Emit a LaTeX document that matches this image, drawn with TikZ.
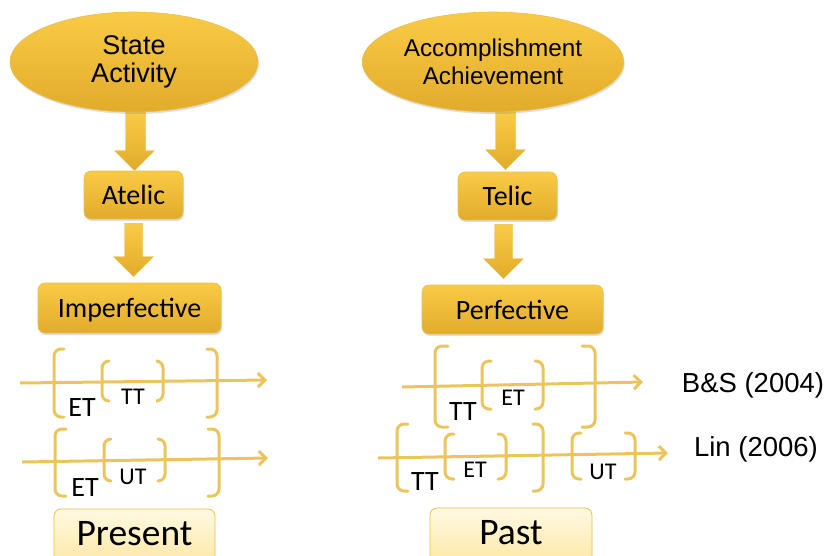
\documentclass[tikz,border=0pt]{standalone}
\usepackage{fontspec}
\setmainfont{Carlito}
\newfontfamily\arialf{Liberation Sans}
\usetikzlibrary{shapes.geometric,arrows.meta,calc,shadows}
\definecolor{goldtop}{HTML}{F9CB45}
\definecolor{goldbot}{HTML}{E2AB2B}
\definecolor{goldedge}{HTML}{E8BE50}
\definecolor{tline}{HTML}{EBC45C}
\definecolor{paletop}{HTML}{FFF9E0}
\definecolor{palebot}{HTML}{FDE397}
\tikzset{
  ell/.style={ellipse, top color=goldtop, bottom color=goldbot, draw=goldedge, line width=0.6pt,
    align=center, font=\arialf\fontsize{27}{28}\selectfont,
    drop shadow={shadow xshift=1pt, shadow yshift=-2pt, opacity=0.25}},
  goldbox/.style={rectangle, rounded corners=7pt, top color=goldtop, bottom color=goldbot,
    draw=goldedge, line width=0.6pt, font=\fontsize{28}{30}\selectfont, inner sep=0pt,
    text depth=0pt,
    drop shadow={shadow xshift=1pt, shadow yshift=-2pt, opacity=0.25}},
  palebox/.style={rounded corners=7pt, top color=paletop, bottom color=palebot,
    draw=goldedge, line width=0.8pt},
  palelab/.style={font=\fontsize{37.5}{40}\selectfont, inner sep=0pt},
  blockarrow/.style={top color=goldtop, bottom color=goldbot, draw=goldedge, line width=0.4pt},
  tl/.style={draw=tline, line width=3pt, -{Straight Barb[length=7pt,width=14pt,line width=3pt]}},
  brk/.style={draw=tline, line width=3pt, rounded corners=7pt, line cap=round},
  outlab/.style={font=\fontsize{28}{30}\selectfont, inner sep=0pt},
  inlab/.style={font=\fontsize{24}{26}\selectfont, inner sep=0pt},
  cite/.style={font=\arialf\fontsize{27.5}{30}\selectfont, inner sep=0pt}
}
% bracket: #1 vertical x, #2 end x, #3 top y, #4 bottom y
\newcommand\brak[4]{\draw[brk] (#2,#3) -- (#1,#3) -- (#1,#4) -- (#2,#4);}
\begin{document}
\begin{tikzpicture}[x=1pt,y=-1pt]
\useasboundingbox (0,0) rectangle (826,555);
\clip (0,0) rectangle (826,555);

% boxes
\node[goldbox, minimum width=99pt, minimum height=48pt] (atelic) at (133.5,195) {Atelic};
\node[goldbox, minimum width=99pt, minimum height=48pt] (telic) at (507.5,196) {Telic};
\node[goldbox, minimum width=183pt, minimum height=50pt] (imperf) at (129.5,308) {Imperfective};
\node[goldbox, minimum width=181pt, minimum height=49pt] (perf) at (512.5,309.5) {Perfective};

% arrow ellipse -> Atelic
\path[blockarrow] let \p2=(atelic.north) in
  (\x2-8pt,\y2+60pt) -- (\x2+12pt,\y2+60pt) -- (\x2+12pt,\y2+20pt) -- (\x2+21pt,\y2+20pt)
  -- (\x2+1pt,\y2) -- (\x2-19pt,\y2+20pt) -- (\x2-8pt,\y2+20pt) -- cycle;
% arrow Atelic -> Imperfective
\path[blockarrow] let \p1=(atelic.south), \p2=(imperf.north) in
  (\x1-9pt,\y1-4pt) -- (\x1+9pt,\y1-4pt) -- (\x1+9pt,\y2+26pt) -- (\x1+20pt,\y2+26pt)
  -- (\x1,\y2+6pt) -- (\x1-20pt,\y2+26pt) -- (\x1-9pt,\y2+26pt) -- cycle;
% arrow ellipse -> Telic
\path[blockarrow] let \p2=(telic.north) in
  (\x2-12pt,\y2+60pt) -- (\x2+8pt,\y2+60pt) -- (\x2+8pt,\y2+22pt) -- (\x2+18pt,\y2+22pt)
  -- (\x2-2pt,\y2+2pt) -- (\x2-22pt,\y2+22pt) -- (\x2-12pt,\y2+22pt) -- cycle;
% arrow Telic -> Perfective
\path[blockarrow] let \p1=(telic.south), \p2=(perf.north) in
  (\x1-13pt,\y1-4pt) -- (\x1+5pt,\y1-4pt) -- (\x1+5pt,\y2+26pt) -- (\x1+16pt,\y2+26pt)
  -- (\x1-4pt,\y2+6pt) -- (\x1-24pt,\y2+26pt) -- (\x1-13pt,\y2+26pt) -- cycle;

% ellipses
\node[ell, minimum width=248pt, minimum height=100pt] (ell1) at (134,62) {State\\Activity};
\node[ell, minimum width=258pt, minimum height=100pt, font=\arialf\fontsize{24.3}{28}\selectfont] (ell2) at (493,62) {Accomplishment\\Achievement};

% ---- left timelines ----
\coordinate (l1s) at (20,383); \coordinate (l1e) at (267,380);
\draw[tl] (l1s) -- (l1e);
\brak{54}{64}{349}{417}
\brak{217}{207}{349}{417}
\brak{102}{109}{361}{401}
\brak{163}{157}{361}{401}
\node[outlab] (et1) at (82,408) {ET};
\node[inlab] (tt1) at (133,397) {TT};

\coordinate (l2s) at (22,462); \coordinate (l2e) at (268,458);
\draw[tl] (l2s) -- (l2e);
\brak{55}{66}{429}{496}
\brak{219}{208}{429}{496}
\brak{104}{111}{439}{481}
\brak{165}{158}{439}{481}
\node[outlab] (et2) at (85,488) {ET};
\node[inlab] (ut1) at (133,477) {UT};

% ---- right timelines ----
\coordinate (r1s) at (402,387); \coordinate (r1e) at (643,382);
\draw[tl] (r1s) -- (r1e);
\brak{435}{448}{346}{427}
\brak{595}{582}{346}{427}
\brak{482}{491}{361}{409}
\brak{543}{535}{361}{409}
\node[outlab] (tt2) at (463,412) {TT};
\node[inlab] (et3) at (513,398) {ET};

\coordinate (r2s) at (378,458); \coordinate (r2e) at (668,453);
\draw[tl] (r2s) -- (r2e);
\brak{397}{408}{424}{491}
\brak{543}{533}{424}{491}
\brak{445}{454}{434}{479}
\brak{506}{498}{434}{479}
\brak{572}{581}{433}{479}
\brak{635}{625}{433}{479}
\node[outlab] (tt3) at (425,482) {TT};
\node[inlab] (et4) at (475,470) {ET};
\node[inlab] (ut2) at (603,472) {UT};

% citations
\node[cite] (bs) at (753,385) {B\&S (2004)};
\node[cite] (lin) at (756,449) {Lin (2006)};

% tense boxes (cut by the lower edge)
\path[palebox] (54,509) rectangle (215,580);
\node[palelab] (present) at (134.5,533.5) {Present};
\path[palebox] (430,508) rectangle (592,580);
\node[palelab] (past) at (511,533) {Past};
\end{tikzpicture}
\end{document}
